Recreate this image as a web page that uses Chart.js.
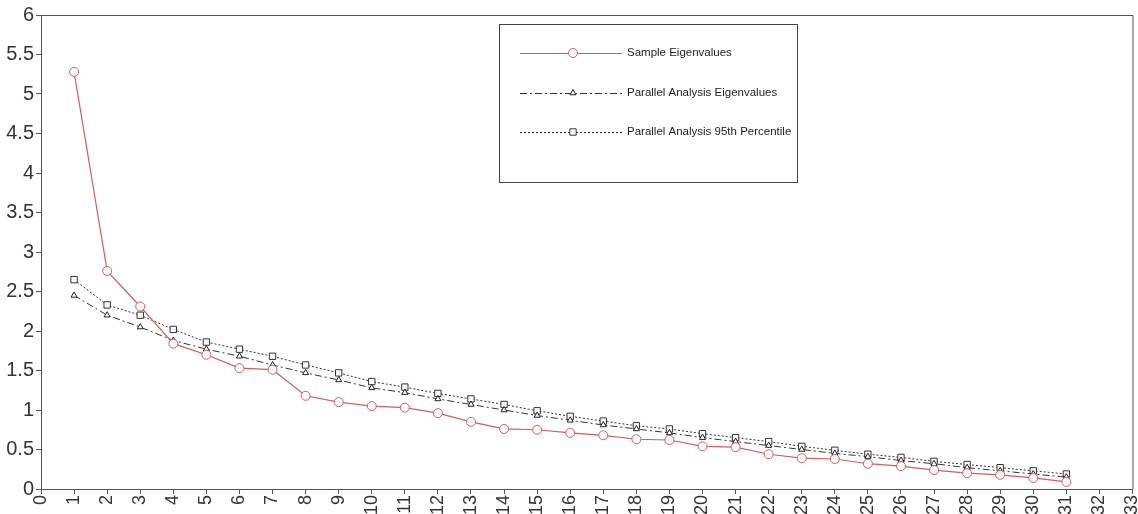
<!DOCTYPE html>
<html>
<head>
<meta charset="utf-8">
<script src="https://cdn.jsdelivr.net/npm/chart.js@4"></script>
<style>
  html, body { margin: 0; padding: 0; background: #fff; }
  #wrap { width: 1138px; height: 514px; }
</style>
</head>
<body>
<div id="wrap"><canvas id="screeChart" width="1138" height="514"></canvas></div>
<script>
const factors = [1, 2, 3, 4, 5, 6, 7, 8, 9, 10, 11, 12, 13, 14, 15, 16, 17, 18, 19, 20, 21, 22, 23, 24, 25, 26, 27, 28, 29, 30, 31];
const sampleEigen = [5.28, 2.76, 2.31, 1.84, 1.70, 1.53, 1.51, 1.18, 1.10, 1.05, 1.03, 0.96, 0.85, 0.76, 0.75, 0.71, 0.68, 0.63, 0.62, 0.54, 0.53, 0.44, 0.39, 0.38, 0.32, 0.29, 0.24, 0.20, 0.18, 0.14, 0.09];
const parallelEigen = [2.45, 2.20, 2.05, 1.88, 1.77, 1.68, 1.57, 1.47, 1.38, 1.28, 1.22, 1.14, 1.07, 1.00, 0.93, 0.87, 0.81, 0.76, 0.71, 0.65, 0.60, 0.55, 0.50, 0.45, 0.41, 0.36, 0.32, 0.27, 0.23, 0.19, 0.15];
const parallel95 = [2.65, 2.33, 2.20, 2.02, 1.86, 1.77, 1.68, 1.57, 1.47, 1.36, 1.29, 1.21, 1.14, 1.07, 0.99, 0.92, 0.86, 0.80, 0.76, 0.70, 0.65, 0.60, 0.54, 0.49, 0.44, 0.40, 0.35, 0.31, 0.27, 0.23, 0.19];
const seriesNames = ['Sample Eigenvalues', 'Parallel Analysis Eigenvalues', 'Parallel Analysis 95th Percentile'];

const axisColor = '#555';
const textColor = '#333';

function toPoints(values) {
    return factors.map((f, i) => ({ x: f, y: values[i] }));
}

// legend box drawn inside the plot, like the original
const boxLegend = {
    id: 'boxLegend',
    afterDatasetsDraw(chart) {
        const ctx = chart.ctx;
        const left = 499, top = 24, w = 298, h = 158;
        ctx.save();
        ctx.fillStyle = '#fff';
        ctx.fillRect(left, top, w, h);
        ctx.strokeStyle = '#444';
        ctx.lineWidth = 1;
        ctx.setLineDash([]);
        ctx.strokeRect(left + 0.5, top + 0.5, w, h);
        const rows = [53, 93, 132];
        chart.data.datasets.forEach((ds, i) => {
            const y = rows[i];
            ctx.strokeStyle = ds.borderColor;
            ctx.lineWidth = ds.borderWidth;
            ctx.setLineDash(ds.borderDash || []);
            ctx.beginPath();
            ctx.moveTo(520, y + 0.5);
            ctx.lineTo(622, y + 0.5);
            ctx.stroke();
            ctx.setLineDash([]);
            ctx.fillStyle = ds.pointBackgroundColor;
            ctx.strokeStyle = ds.pointBorderColor;
            ctx.lineWidth = 1;
            Chart.helpers.drawPoint(ctx, {
                pointStyle: ds.pointStyle,
                radius: ds.pointRadius,
                borderWidth: 1,
                rotation: 0
            }, 573, y);
            ctx.fillStyle = '#222';
            ctx.font = '11.5px "Liberation Sans", Arial, sans-serif';
            ctx.textBaseline = 'middle';
            ctx.textAlign = 'left';
            ctx.fillText(ds.label, 627, y);
        });
        ctx.restore();
    }
};

// frame round the plot area
const plotFrame = {
    id: 'plotFrame',
    afterDraw(chart) {
        const a = chart.chartArea;
        const ctx = chart.ctx;
        ctx.save();
        ctx.strokeStyle = axisColor;
        ctx.lineWidth = 1;
        ctx.beginPath();
        ctx.moveTo(a.left, a.top + 0.5);
        ctx.lineTo(a.right + 0.5, a.top + 0.5);
        ctx.lineTo(a.right + 0.5, a.bottom);
        ctx.stroke();
        ctx.restore();
    }
};

const ctx = document.getElementById('screeChart').getContext('2d');
const screeChart = new Chart(ctx, {
    type: 'line',
    data: {
        datasets: [{
            label: seriesNames[0],
            data: toPoints(sampleEigen),
            borderColor: 'rgb(205, 95, 95)',
            borderWidth: 1.2,
            pointStyle: 'circle',
            pointRadius: 4.5,
            pointBackgroundColor: 'rgba(255, 255, 255, 0.9)',
            pointBorderColor: 'rgb(205, 95, 95)',
            pointBorderWidth: 1,
            tension: 0
        }, {
            label: seriesNames[1],
            data: toPoints(parallelEigen),
            borderColor: '#333',
            borderWidth: 1,
            borderDash: [7, 3, 2, 3],
            pointStyle: 'triangle',
            pointRadius: 3.5,
            pointBackgroundColor: '#fff',
            pointBorderColor: '#222',
            pointBorderWidth: 1,
            tension: 0
        }, {
            label: seriesNames[2],
            data: toPoints(parallel95),
            borderColor: '#333',
            borderWidth: 1,
            borderDash: [2, 2],
            pointStyle: 'rect',
            pointRadius: 4.5,
            pointBackgroundColor: 'rgba(255, 255, 255, 0.9)',
            pointBorderColor: '#333',
            pointBorderWidth: 1,
            tension: 0
        }]
    },
    options: {
        responsive: false,
        animation: false,
        layout: { padding: { top: 15, right: 5, left: 0, bottom: 0 } },
        plugins: {
            legend: { display: false },
            tooltip: { enabled: false }
        },
        scales: {
            x: {
                type: 'linear',
                min: 0,
                max: 33,
                afterFit(scale) {
                    scale.height = 25;
                    scale.paddingLeft = 0;
                    scale.paddingRight = 0;
                },
                border: { color: axisColor, width: 1 },
                grid: { display: true, drawOnChartArea: false, drawTicks: true, tickLength: 5, color: axisColor },
                ticks: {
                    stepSize: 1,
                    autoSkip: false,
                    minRotation: 90,
                    maxRotation: 90,
                    padding: 1,
                    color: textColor,
                    font: { family: '"Liberation Sans", Arial, sans-serif', size: 18 }
                }
            },
            y: {
                min: 0,
                max: 6,
                afterFit(scale) {
                    scale.width = 41;
                    scale.paddingTop = 0;
                    scale.paddingBottom = 0;
                },
                border: { color: axisColor, width: 1 },
                grid: { display: true, drawOnChartArea: false, drawTicks: true, tickLength: 5, color: axisColor },
                ticks: {
                    stepSize: 0.5,
                    padding: 2,
                    color: textColor,
                    font: { family: '"Liberation Sans", Arial, sans-serif', size: 20 },
                    callback: (v) => String(v)
                }
            }
        }
    },
    plugins: [boxLegend, plotFrame]
});
</script>
</body>
</html>
